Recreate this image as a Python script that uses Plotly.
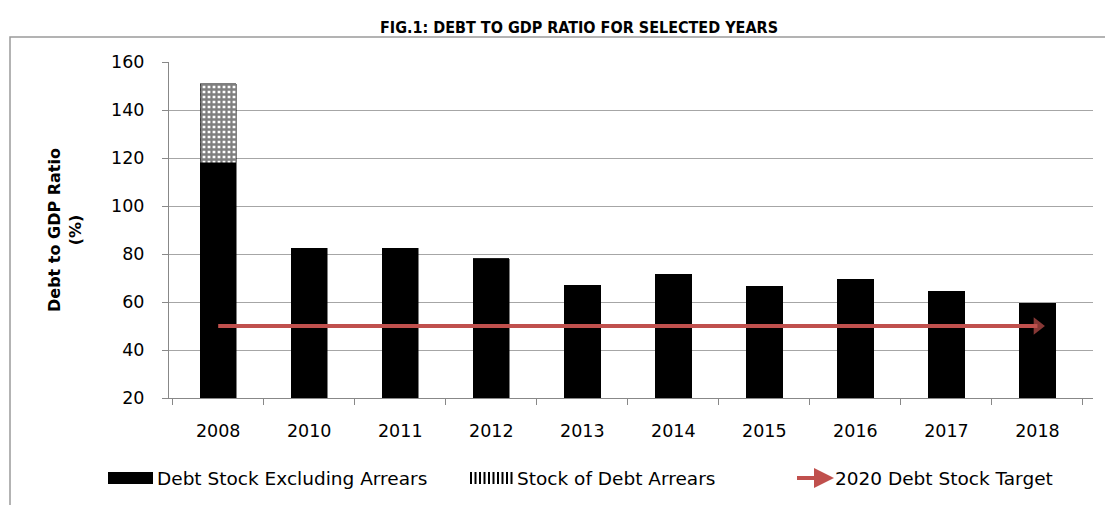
import plotly.graph_objects as go

years = ["2008", "2010", "2011", "2012", "2013", "2014", "2015", "2016", "2017", "2018"]
debt_excl_arrears = [118, 82.5, 82.5, 78, 67, 71.5, 66.5, 69.5, 64.5, 59.5]
debt_arrears = [33, 0, 0, 0, 0, 0, 0, 0, 0, 0]
target_years = ["2008", "2018"]
target_value = [50, 50]

series_names = ["Debt Stock Excluding Arrears", "Stock of Debt Arrears", "2020 Debt Stock Target"]
target_color = "#C0504D"

W, H = 1105, 505
L, R, T, B = 169, 12, 62, 107
pw, ph = W - L - R, H - T - B


def px_x(px):
    return (px - L) / pw


def px_y(py):
    return (H - B - py) / ph


tick_font = dict(family="DejaVu Sans, Verdana, sans-serif", size=17.5, color="#000000")
legend_font = dict(family="DejaVu Sans, sans-serif", size=18.5, color="#000000")

fig = go.Figure()
fig.add_trace(go.Bar(
    x=years, y=debt_excl_arrears, name=series_names[0],
    marker=dict(color="#000000", line=dict(color="#000000", width=0.5)),
    width=0.4,
))
fig.add_trace(go.Bar(
    x=years, y=debt_arrears, name=series_names[1],
    marker=dict(color="#ffffff", line=dict(color="#000000", width=0.5),
                pattern=dict(shape="+", fgcolor="#000000", bgcolor="#ffffff",
                             size=5, solidity=0.7)),
    width=0.4,
))
fig.add_trace(go.Scatter(
    x=target_years, y=target_value, name=series_names[2],
    mode="lines+markers",
    line=dict(color=target_color, width=4),
    marker=dict(symbol="triangle-right", size=[0, 15], color=target_color,
                line=dict(width=0)),
))

# Legend drawn as swatches + labels along the bottom
ly = 478
shapes = [dict(type="rect", xref="paper", yref="paper",
               x0=px_x(10), x1=px_x(1120), y0=px_y(520), y1=px_y(37),
               line=dict(color="#9a9a9a", width=1.5), layer="below")]
# solid swatch
shapes.append(dict(type="rect", xref="paper", yref="paper",
                   x0=px_x(108), x1=px_x(153), y0=px_y(ly + 6), y1=px_y(ly - 6),
                   fillcolor="#000000", line=dict(width=0)))
# striped swatch
for i in range(10):
    xs = 471 + i * 4.5
    shapes.append(dict(type="line", xref="paper", yref="paper",
                       x0=px_x(xs), x1=px_x(xs), y0=px_y(ly + 6), y1=px_y(ly - 6),
                       line=dict(color="#000000", width=2)))
# arrow swatch shaft
shapes.append(dict(type="line", xref="paper", yref="paper",
                   x0=px_x(797), x1=px_x(824), y0=px_y(ly), y1=px_y(ly),
                   line=dict(color=target_color, width=4)))

annotations = [
    dict(text="<b>Debt to GDP Ratio<br>(%)</b>", textangle=-90,
         x=px_x(65), y=0.5, xref="paper", yref="paper", xanchor="center",
         yanchor="middle", showarrow=False,
         font=dict(family="DejaVu Sans, sans-serif", size=16, color="#000000")),
    dict(text=series_names[0], x=px_x(155), y=px_y(ly), xref="paper", yref="paper",
         xanchor="left", yanchor="middle", showarrow=False, font=legend_font),
    dict(text=series_names[1], x=px_x(515), y=px_y(ly), xref="paper", yref="paper",
         xanchor="left", yanchor="middle", showarrow=False, font=legend_font),
    dict(text=series_names[2], x=px_x(833), y=px_y(ly), xref="paper", yref="paper",
         xanchor="left", yanchor="middle", showarrow=False, font=legend_font),
    dict(text="", x=px_x(834), y=px_y(ly), xref="paper", yref="paper",
         ax=-14, ay=0, showarrow=True, arrowhead=2, arrowsize=1.0,
         arrowwidth=4, arrowcolor=target_color),
]

fig.update_layout(
    width=W, height=H,
    margin=dict(l=L, r=R, t=T, b=B),
    paper_bgcolor="#ffffff", plot_bgcolor="#ffffff",
    barmode="stack", bargap=0.6,
    showlegend=False,
    title=dict(text="<b>FIG.1: DEBT TO GDP RATIO FOR SELECTED YEARS</b>",
               x=579 / W, y=1 - 27 / H, xanchor="center", yanchor="middle",
               font=dict(family="Liberation Sans Narrow, DejaVu Sans Condensed, Arial Narrow, sans-serif",
                         size=16, color="#000000")),
    xaxis=dict(type="category", tickson="boundaries", ticks="outside", ticklen=6,
               tickcolor="#888888", showline=True, linecolor="#888888", linewidth=1,
               showgrid=False, tickfont=tick_font, ticklabelstandoff=17),
    yaxis=dict(range=[20, 160], dtick=20, ticks="outside", ticklen=6,
               tickcolor="#888888", showline=True, linecolor="#888888", linewidth=1,
               showgrid=True, gridcolor="#A6A6A6", gridwidth=1, zeroline=False,
               tickfont=tick_font, ticklabelstandoff=14),
    annotations=annotations,
    shapes=shapes,
)

fig.write_html("out.html")
